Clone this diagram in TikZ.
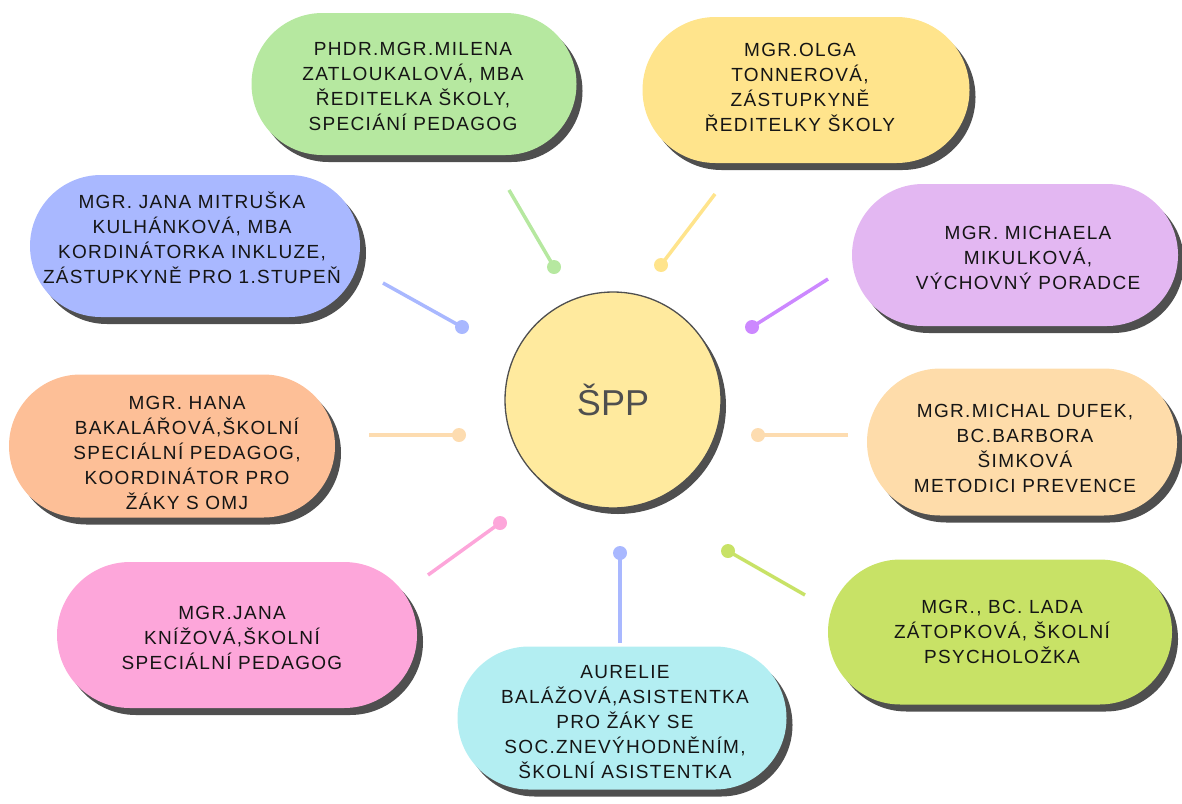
\documentclass[tikz,border=0pt]{standalone}
\usepackage{fontspec}
\setmainfont{Liberation Sans}
\usetikzlibrary{shapes.misc,shadows}
\definecolor{shadowc}{HTML}{4F4F4F}
\definecolor{txt}{HTML}{151515}
\definecolor{cgreen}{HTML}{B6E8A0}
\definecolor{cyellow}{HTML}{FFE48C}
\definecolor{cblue}{HTML}{A9B8FF}
\definecolor{cpurple}{HTML}{E3B7F2}
\definecolor{corange}{HTML}{FDBF97}
\definecolor{cpeach}{HTML}{FEDCAA}
\definecolor{cpink}{HTML}{FDA6DA}
\definecolor{clime}{HTML}{C8E266}
\definecolor{ccyan}{HTML}{B3EEF2}
\definecolor{ccircle}{HTML}{FFEA9E}
\definecolor{lpurple}{HTML}{CC88FF}
\definecolor{lpeach}{HTML}{FDDCB0}
\begin{document}
\begin{tikzpicture}[x=1pt,y=-1pt,
  pill/.style={rounded rectangle, inner sep=0pt, fill=#1,
    drop shadow={shadow xshift=6pt, shadow yshift=-7pt, fill=shadowc, opacity=1}},
  ptext/.style={align=center, text=txt, inner sep=0pt,
    font=\fontsize{19}{25}\selectfont\addfontfeature{LetterSpace=7}},
  dot/.style={circle, fill=#1, minimum size=14pt, inner sep=0pt},
  link/.style={draw=#1, line width=3.5pt}]
\useasboundingbox (0,0) rectangle (1182,803);

% central circle
\node (c) [circle, minimum size=216pt, inner sep=0pt, fill=ccircle, draw=shadowc, line width=1.3pt,
  drop shadow={shadow xshift=5pt, shadow yshift=-6pt, fill=shadowc, opacity=1},
  text=shadowc, font=\fontsize{36}{40}\selectfont] at (613,400) {ŠPP};

% pills
\node (p1) [pill=cgreen, minimum width=325pt, minimum height=142pt] at (414,84) {};
\node (t1) [ptext] at (413,86) {PHDR.MGR.MILENA\\ZATLOUKALOVÁ, MBA\\ŘEDITELKA ŠKOLY,\\SPECIÁNÍ PEDAGOG};

\node (p2) [pill=cyellow, minimum width=327pt, minimum height=146pt] at (806,90) {};
\node (t2) [ptext] at (800,87) {MGR.OLGA\\TONNEROVÁ,\\ZÁSTUPKYNĚ\\ŘEDITELKY ŠKOLY};

\node (p3) [pill=cblue, minimum width=330pt, minimum height=142pt] at (195,246) {};
\node (t3) [ptext] at (192,238) {MGR. JANA MITRUŠKA\\KULHÁNKOVÁ, MBA\\KORDINÁTORKA INKLUZE,\\ZÁSTUPKYNĚ PRO 1.STUPEŇ};

\node (p4) [pill=cpurple, minimum width=326pt, minimum height=142pt] at (1015,255) {};
\node (t4) [ptext] at (1028,258) {MGR. MICHAELA\\MIKULKOVÁ,\\VÝCHOVNÝ PORADCE};

\node (p5) [pill=corange, minimum width=326pt, minimum height=143pt] at (172,446) {};
\node (t5) [ptext] at (187,453) {MGR. HANA\\BAKALÁŘOVÁ,ŠKOLNÍ\\SPECIÁLNÍ PEDAGOG,\\KOORDINÁTOR PRO\\ŽÁKY S OMJ};

\node (p6) [pill=cpeach, minimum width=310pt, minimum height=147pt] at (1022,442) {};
\node (t6) [ptext] at (1025,448) {MGR.MICHAL DUFEK,\\BC.BARBORA\\ŠIMKOVÁ\\METODICI PREVENCE};

\node (p7) [pill=cpink, minimum width=360pt, minimum height=146pt] at (237,635) {};
\node (t7) [ptext] at (232,638) {MGR.JANA\\KNÍŽOVÁ,ŠKOLNÍ\\SPECIÁLNÍ PEDAGOG};

\node (p8) [pill=clime, minimum width=344pt, minimum height=145pt] at (1000,632) {};
\node (t8) [ptext] at (1002,632) {MGR., BC. LADA\\ZÁTOPKOVÁ, ŠKOLNÍ\\PSYCHOLOŽKA};

\node (p9) [pill=ccyan, minimum width=329pt, minimum height=143pt] at (622,718) {};
\node (t9) [ptext] at (625,722) {AURELIE\\BALÁŽOVÁ,ASISTENTKA\\PRO ŽÁKY SE\\SOC.ZNEVÝHODNĚNÍM,\\ŠKOLNÍ ASISTENTKA};

% connectors
\coordinate (e1) at (509,190);  \node (d1) [dot=cgreen]   at (554,267) {};
\coordinate (e2) at (715,194);  \node (d2) [dot=cyellow]  at (661,265) {};
\coordinate (e3) at (383,283);  \node (d3) [dot=cblue]    at (462,327) {};
\coordinate (e4) at (828,279);  \node (d4) [dot=lpurple]  at (752,327) {};
\coordinate (e5) at (369,435);  \node (d5) [dot=lpeach]   at (459,435) {};
\coordinate (e6) at (848,435);  \node (d6) [dot=lpeach]   at (758,435) {};
\coordinate (e7) at (428,575);  \node (d7) [dot=cpink]    at (500,523) {};
\coordinate (e8) at (805,595);  \node (d8) [dot=clime]    at (728,551) {};
\coordinate (e9) at (620,643);  \node (d9) [dot=cblue]    at (620,553) {};

\draw[link=cgreen]  (e1) -- (d1.center);
\draw[link=cyellow] (e2) -- (d2.center);
\draw[link=cblue]   (e3) -- (d3.center);
\draw[link=lpurple] (e4) -- (d4.center);
\draw[link=lpeach]  (e5) -- (d5.center);
\draw[link=lpeach]  (e6) -- (d6.center);
\draw[link=cpink]   (e7) -- (d7.center);
\draw[link=clime]   (e8) -- (d8.center);
\draw[link=cblue]   (e9) -- (d9.center);
\end{tikzpicture}
\end{document}
